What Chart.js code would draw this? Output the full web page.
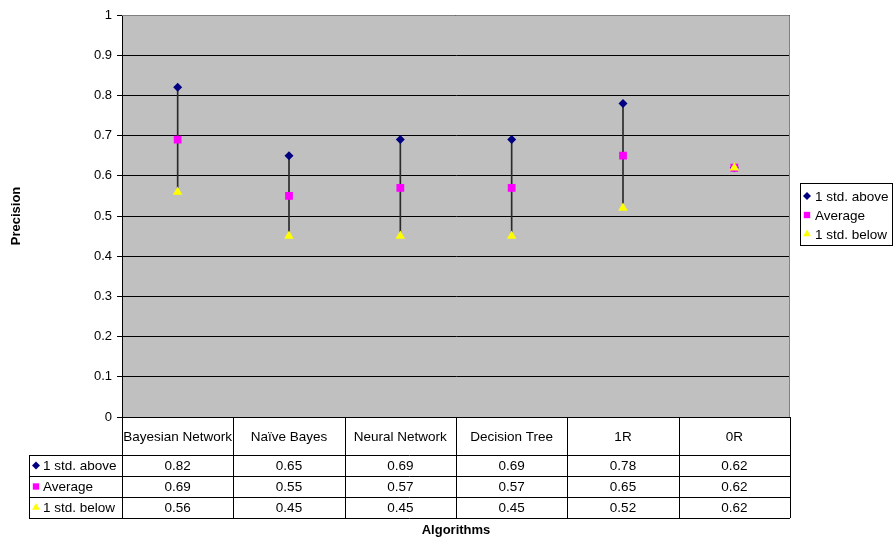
<!DOCTYPE html>
<html>
<head>
<meta charset="utf-8">
<script src="https://cdn.jsdelivr.net/npm/chart.js@4.4.1/dist/chart.umd.min.js"></script>
<style>
	html, body { margin: 0; padding: 0; background: #fff; }
	#wrap { width: 893px; height: 540px; }
</style>
</head>
<body>
<div id="wrap"><canvas id="myChart" width="893" height="540"></canvas></div>
<script>
// categories and series
const algorithms = ['Bayesian Network', 'Naïve Bayes', 'Neural Network', 'Decision Tree', '1R', '0R'];
const stdAbove = [0.82, 0.65, 0.69, 0.69, 0.78, 0.62];
const average = [0.69, 0.55, 0.57, 0.57, 0.65, 0.62];
const stdBelow = [0.56, 0.45, 0.45, 0.45, 0.52, 0.62];
const seriesNames = ['1 std. above', 'Average', '1 std. below'];

const FONT = '"Liberation Sans", Arial, sans-serif';
Chart.defaults.font.family = FONT;
Chart.defaults.color = '#000';

const markers = [
	{ style: 'rectRot', color: '#000080', radius: 4.5 },
	{ style: 'rect', color: '#FF00FF', radius: 5.5 },
	{ style: 'triangle', color: '#FFFF00', radius: 5.5 }
];
const seriesValues = [stdAbove, average, stdBelow];

// gray plot area + table + legend, Excel style
const excelPlugin = {
	id: 'excelPlugin',
	beforeDraw(chart) {
		const a = chart.chartArea;
		const ctx = chart.ctx;
		ctx.save();
		ctx.fillStyle = '#C0C0C0';
		ctx.fillRect(a.left, a.top, a.right - a.left, a.bottom - a.top);
		ctx.restore();
	},
	afterDraw(chart) {
		const a = chart.chartArea;
		const ctx = chart.ctx;
		const x = chart.scales.x;
		const n = algorithms.length;
		const colW = (a.right - a.left) / n;
		const headTop = a.bottom, headBot = a.bottom + 38;
		const rowH = 21;
		const labelLeft = 29;

		ctx.save();
		// plot border
		ctx.strokeStyle = '#808080';
		ctx.lineWidth = 1;
		ctx.beginPath();
		ctx.moveTo(a.left, a.top + 0.5);
		ctx.lineTo(a.right - 0.5, a.top + 0.5);
		ctx.lineTo(a.right - 0.5, a.bottom);
		ctx.stroke();

		// table lines
		ctx.strokeStyle = '#000';
		ctx.beginPath();
		const tableBot = headBot + rowH * 3;
		for (let i = 0; i <= n; i++) {
			const cx = Math.round(a.left + i * colW) + 0.5;
			ctx.moveTo(cx, headTop);
			ctx.lineTo(cx, tableBot);
		}
		ctx.moveTo(labelLeft + 0.5, headBot);
		ctx.lineTo(labelLeft + 0.5, tableBot);
		for (let r = 0; r <= 3; r++) {
			const yy = Math.round(headBot + r * rowH) + 0.5;
			ctx.moveTo(labelLeft, yy);
			ctx.lineTo(a.right, yy);
		}
		ctx.stroke();

		// header
		ctx.font = '13.5px ' + FONT;
		ctx.fillStyle = '#000';
		ctx.textAlign = 'center';
		ctx.textBaseline = 'middle';
		algorithms.forEach((name, i) => {
			ctx.fillText(name, x.getPixelForValue(i), (headTop + headBot) / 2 + 1);
		});
		// rows
		seriesValues.forEach((vals, r) => {
			const yy = headBot + r * rowH + rowH / 2 + 1;
			ctx.textAlign = 'center';
			vals.forEach((v, i) => {
				ctx.fillText(v.toFixed(2), x.getPixelForValue(i), yy);
			});
			const m = markers[r];
			ctx.fillStyle = m.color;
			ctx.strokeStyle = m.color;
			Chart.helpers.drawPoint(ctx, { pointStyle: m.style, radius: r === 0 ? 4 : 4.5, borderWidth: 0 }, labelLeft + 7, yy - 1);
			ctx.fillStyle = '#000';
			ctx.textAlign = 'left';
			ctx.fillText(seriesNames[r], labelLeft + 14, yy);
		});

		// x title
		ctx.font = 'bold 13px ' + FONT;
		ctx.textAlign = 'center';
		ctx.fillText('Algorithms', (a.left + a.right) / 2, 530);

		// legend box
		const lx = 800, ly = 183, lw = 93, lh = 63;
		ctx.fillStyle = '#fff';
		ctx.fillRect(lx, ly, lw, lh);
		ctx.strokeStyle = '#000';
		ctx.strokeRect(lx + 0.5, ly + 0.5, lw - 1, lh - 1);
		ctx.font = '13.5px ' + FONT;
		ctx.textAlign = 'left';
		seriesNames.forEach((name, r) => {
			const yy = ly + 14 + r * 19;
			const m = markers[r];
			ctx.fillStyle = m.color;
			ctx.strokeStyle = m.color;
			Chart.helpers.drawPoint(ctx, { pointStyle: m.style, radius: r === 0 ? 4 : 4.5, borderWidth: 0 }, lx + 7, yy - 1);
			ctx.fillStyle = '#000';
			ctx.fillText(name, lx + 15, yy);
		});
		ctx.restore();
	}
};

const hiLo = stdAbove.map((h, i) => [stdBelow[i], h]);

const ctx = document.getElementById('myChart');
const myChart = new Chart(ctx, {
	data: {
		labels: algorithms,
		datasets: [
			{
				type: 'bar',
				label: 'hi-lo',
				data: hiLo,
				backgroundColor: '#2a2a2a',
				barThickness: 1,
				order: 10
			},
			...seriesValues.map((vals, r) => ({
				type: 'line',
				label: seriesNames[r],
				data: vals,
				showLine: false,
				pointStyle: markers[r].style,
				pointRadius: markers[r].radius,
				pointBackgroundColor: markers[r].color,
				pointBorderColor: markers[r].color,
				pointBorderWidth: 0,
				order: 3 - r
			}))
		]
	},
	options: {
		responsive: false,
		animation: false,
		layout: { padding: { left: 0, right: 103, top: 15, bottom: 123 } },
		plugins: {
			legend: { display: false },
			tooltip: { enabled: false }
		},
		scales: {
			x: {
				type: 'category',
				display: false,
				offset: true
			},
			y: {
				min: 0,
				max: 1,
				afterFit(scale) { scale.width = 122; },
				ticks: {
					stepSize: 0.1,
					font: { size: 13 },
					color: '#000',
					padding: 5,
					callback: (v) => String(Number(v.toFixed(1)))
				},
				grid: {
					color: '#000',
					lineWidth: 1,
					tickLength: 5
				},
				border: { color: '#000' },
				title: {
					display: true,
					text: 'Precision',
					font: { size: 13, weight: 'bold' },
					color: '#000',
					padding: { top: 9, bottom: 0 }
				}
			}
		}
	},
	plugins: [excelPlugin]
});
</script>
</body>
</html>
